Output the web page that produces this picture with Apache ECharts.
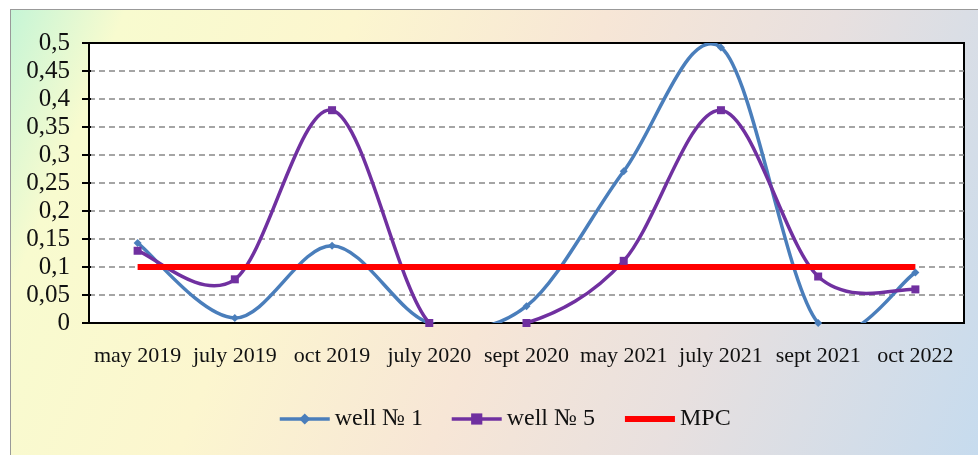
<!DOCTYPE html>
<html>
<head>
<meta charset="UTF-8">
<title>wells</title>
<script src="https://cdn.jsdelivr.net/npm/echarts@6/dist/echarts.min.js"></script>
<style>
  html, body { margin: 0; padding: 0; background: #fff; }
  #frame {
    position: absolute; left: 10px; top: 9px; width: 968px; height: 446px;
    border-left: 1px solid #999; border-top: 1px solid #999;
    background: linear-gradient(112deg, #c6f5d6 0%, #f8fbcf 10%, #fcf6cf 30%, #f7e6d6 52%, #e8e0df 72%, #c6dbee 100%);
  }
  #main { position: absolute; left: 0; top: 0; width: 978px; height: 455px; }
</style>
</head>
<body>
<div id="frame"></div>
<div id="main"></div>
<script type="text/javascript">
// categories and values
var months = ['may 2019', 'july 2019', 'oct 2019', 'july 2020', 'sept 2020',
              'may 2021', 'july 2021', 'sept 2021', 'oct 2022'];
var well1 = [0.143, 0.009, 0.138, 0, 0.03, 0.271, 0.492, 0, 0.09];
var well5 = [0.129, 0.078, 0.38, 0, 0, 0.111, 0.38, 0.083, 0.06];
var mpc = [0.1, 0.1, 0.1, 0.1, 0.1, 0.1, 0.1, 0.1, 0.1];

var serif = '"Liberation Serif", "DejaVu Serif", serif';
var blue = '#4a7ebb', purple = '#7030a0', red = '#ff0000';

// excel-like smoothing (catmull-rom), points come from the axes via api.coord
function splineRenderer(vals, color) {
    return function (params, api) {
        if (params.dataIndex !== 0) return;
        var p = vals.map(function (v, i) { return api.coord([i, v]); });
        var d = 'M' + p[0][0] + ' ' + p[0][1];
        for (var i = 0; i < p.length - 1; i++) {
            var p0 = p[i - 1] || p[i], p1 = p[i], p2 = p[i + 1], p3 = p[i + 2] || p[i + 1];
            var c1x = p1[0] + (p2[0] - p0[0]) / 6, c1y = p1[1] + (p2[1] - p0[1]) / 6;
            var c2x = p2[0] - (p3[0] - p1[0]) / 6, c2y = p2[1] - (p3[1] - p1[1]) / 6;
            d += ' C' + c1x + ' ' + c1y + ' ' + c2x + ' ' + c2y + ' ' + p2[0] + ' ' + p2[1];
        }
        return {
            type: 'path',
            shape: { pathData: d },
            style: { stroke: color, lineWidth: 3.5, fill: null, lineCap: 'round', lineJoin: 'round' }
        };
    };
}

var chart = echarts.init(document.getElementById('main'));

var option = {
    backgroundColor: 'transparent',
    animation: false,
    grid: {
        left: 89, right: 14, top: 43, bottom: 132,
        show: true, backgroundColor: '#fff',
        borderColor: '#000', borderWidth: 2
    },
    legend: {
        bottom: 19, left: 273,
        itemWidth: 50, itemHeight: 14, itemGap: 27,
        textStyle: { fontFamily: serif, fontSize: 24, color: '#111' },
        data: [
            { name: 'well № 1', lineStyle: { color: blue, width: 3.5, opacity: 1 } },
            { name: 'well № 5', lineStyle: { color: purple, width: 3.5, opacity: 1 } },
            { name: 'MPC', itemStyle: { opacity: 0 }, lineStyle: { color: red, width: 6, opacity: 1 } }
        ]
    },
    xAxis: [{
        type: 'category',
        data: months,
        boundaryGap: true,
        axisLine: { lineStyle: { color: '#000', width: 2 } },
        axisTick: { length: 10, lineStyle: { color: '#888', width: 1 } },
        axisLabel: { fontFamily: serif, fontSize: 22, color: '#111', margin: 22, interval: 0 },
        splitLine: { show: false }
    }, {
        type: 'category',
        data: months,
        position: 'bottom',
        boundaryGap: true,
        axisLine: { show: false },
        axisTick: { inside: true, length: 8, lineStyle: { color: '#888', width: 1 } },
        axisLabel: { show: false }
    }],
    yAxis: [{
        type: 'value',
        min: 0, max: 0.5, interval: 0.05,
        axisLine: { show: true, lineStyle: { color: '#000', width: 2 } },
        axisTick: { show: true, length: 7, lineStyle: { color: '#000', width: 2 } },
        axisLabel: {
            fontFamily: serif, fontSize: 25, color: '#111', margin: 19,
            formatter: function (v) { return String(+v.toFixed(2)).replace('.', ','); }
        },
        splitLine: { showMaxLine: false, lineStyle: { color: '#888', width: 1.5, type: [6, 4] } }
    }, {
        type: 'value',
        min: 0, max: 0.5, interval: 0.05,
        position: 'left',
        axisLine: { show: false },
        axisTick: { show: true, inside: true, length: 2, lineStyle: { color: '#000', width: 2 } },
        axisLabel: { show: false },
        splitLine: { show: false }
    }],
    series: [{
        type: 'custom',
        name: 'curve1',
        data: [[0, 0]],
        clip: true,
        silent: true,
        renderItem: splineRenderer(well1, blue)
    }, {
        type: 'custom',
        name: 'curve5',
        data: [[0, 0]],
        clip: true,
        silent: true,
        renderItem: splineRenderer(well5, purple)
    }, {
        name: 'MPC',
        type: 'line',
        data: mpc,
        symbol: 'none',
        color: red,
        lineStyle: { width: 6, color: red }
    }, {
        name: 'well № 1',
        type: 'line',
        data: well1,
        symbol: 'diamond',
        symbolSize: 8,
        color: blue,
        lineStyle: { opacity: 0 },
        itemStyle: { color: blue }
    }, {
        name: 'well № 5',
        type: 'line',
        data: well5,
        symbol: 'rect',
        symbolSize: 8,
        color: purple,
        lineStyle: { opacity: 0 },
        itemStyle: { color: purple }
    }]
};

chart.setOption(option);
</script>
</body>
</html>
